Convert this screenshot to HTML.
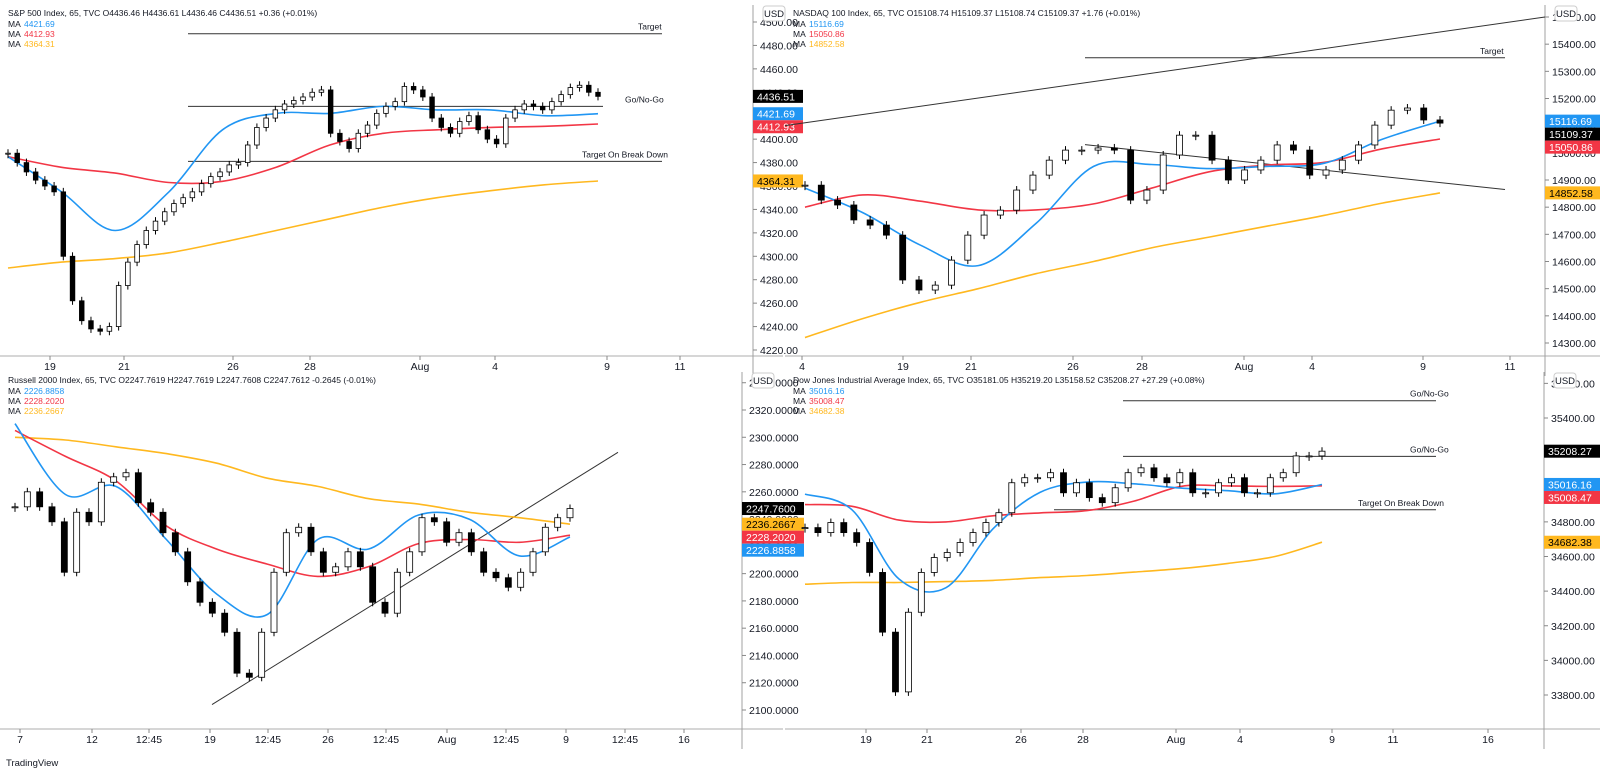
<!DOCTYPE html>
<html><head><meta charset="utf-8"><style>
html,body{margin:0;padding:0;background:#fff;width:1600px;height:770px;overflow:hidden}
svg{display:block;font-family:"Liberation Sans",sans-serif}
</style></head><body>
<svg id="s" width="1600" height="770" viewBox="0 0 1600 770"></svg>
<script>
// ---------- DATA ----------
const spxCloses=[4388,4380,4372,4365,4360,4355,4300,4262,4245,4238,4236,4240,4275,4295,4310,4322,4330,4338,4345,4350,4355,4362,4368,4372,4378,4380,4395,4410,4418,4425,4430,4433,4436,4440,4442,4405,4398,4392,4405,4412,4422,4428,4432,4445,4442,4436,4418,4410,4405,4415,4420,4408,4400,4396,4418,4425,4430,4428,4425,4432,4438,4444,4446,4440,4436.51];
const spxMaBlue=[4385,4355,4322,4355,4408,4422,4422,4428,4425,4425,4420,4421.69];
const spxMaRed=[4385,4376,4371,4363,4364,4376,4395,4405,4408,4410,4411,4412.93];
const spxMaYellow=[4290,4295,4298,4303,4312,4322,4332,4342,4350,4356,4361,4364.31];
const spxTicks=[4220,4240,4260,4280,4300,4320,4340,4360,4380,4400,4420,4440,4460,4480,4500];
const spxDates=["19","21","26","28","Aug","4","9","11"];

const ndxCloses=[14881,14826,14808,14753,14734,14697,14532,14495,14513,14605,14697,14771,14789,14863,14918,14973,15010,15010,15018,15010,14826,14863,14992,15065,15065,14973,14900,14937,14973,15029,15010,14918,14937,14973,15029,15102,15157,15165,15121,15109.37];
const ndxMaBlue=[14870,14780,14660,14585,14740,14950,14957,14942,14950,14962,15050,15116.69];
const ndxMaRed=[14800,14845,14822,14790,14790,14812,14870,14930,14955,14965,15015,15050.86];
const ndxMaYellow=[14320,14390,14450,14500,14555,14600,14650,14690,14730,14770,14815,14852.58];
const ndxTicks=[14300,14400,14500,14600,14700,14800,14900,15000,15100,15200,15300,15400,15500];
const ndxDates=["4","19","21","26","28","Aug","4","9","11"];

const rutCloses=[2249,2260,2249,2238,2201,2245,2238,2267,2271,2274,2252,2245,2230,2216,2194,2179,2171,2157,2127,2124,2157,2201,2230,2234,2216,2201,2205,2216,2205,2179,2171,2201,2216,2241,2238,2223,2230,2216,2201,2197,2190,2201,2216,2234,2241,2247.76];
const rutMaBlue=[2310,2258,2264,2225,2185,2170,2225,2218,2243,2240,2213,2226.8858];
const rutMaRed=[2305,2286,2268,2235,2218,2207,2198,2205,2222,2225,2223,2228.2020];
const rutMaYellow=[2300,2298,2293,2288,2281,2270,2264,2255,2251,2245,2241,2236.2667];
const rutTicks=[2100,2120,2140,2160,2180,2200,2220,2240,2260,2280,2300,2320,2340];
const rutDates=["7","12","12:45","19","12:45","26","12:45","Aug","12:45","9","12:45","16"];

const djiCloses=[34767,34738,34796,34738,34681,34508,34163,33818,34278,34508,34594,34623,34681,34738,34796,34853,35026,35055,35055,35084,34968,35026,34940,34911,34997,35084,35112,35055,35026,35084,34968,34968,35026,35055,34968,34968,35055,35084,35181,35181,35208.27];
const djiMaBlue=[34960,34870,34470,34420,34760,34970,35030,35020,34995,34980,34962,35016.16];
const djiMaRed=[34900,34890,34810,34800,34835,34852,34865,34920,35005,35008,35005,35008.47];
const djiMaYellow=[34440,34450,34450,34455,34462,34478,34490,34510,34530,34560,34600,34682.38];
const djiTicks=[33800,34000,34200,34400,34600,34800,35000,35200,35400,35600];
const djiDates=["19","21","26","28","Aug","4","9","11","16"];

// ---------- RENDER ----------
const NS="http://www.w3.org/2000/svg";
const svg=document.getElementById('s');
function mk(tag,attrs,parent,txt){const e=document.createElementNS(NS,tag);for(const k in attrs)e.setAttribute(k,attrs[k]);if(txt!==undefined)e.textContent=txt;(parent||svg).appendChild(e);return e;}
const BLUE="#2196f3",RED="#f23645",YEL="#ffb81f";
function smooth(P){let d="M"+P[0][0]+","+P[0][1];
  for(let i=0;i<P.length-1;i++){const p0=P[i-1]||P[i],p1=P[i],p2=P[i+1],p3=P[i+2]||p2;
    const c1=[p1[0]+(p2[0]-p0[0])/6,p1[1]+(p2[1]-p0[1])/6],c2=[p2[0]-(p3[0]-p1[0])/6,p2[1]-(p3[1]-p1[1])/6];
    d+=" C"+c1.map(v=>v.toFixed(1))+" "+c2.map(v=>v.toFixed(1))+" "+p2.map(v=>v.toFixed(1));}
  return d;}

function panel(c){
  const g=mk('g',{});
  
  
  const y=p=>c.ya+(p-c.pa)*(c.yb-c.ya)/(c.pb-c.pa);
  const n=c.closes.length;
  const x=i=>c.x0+i*(c.x1-c.x0)/(n-1);
  const xm=(i,m)=>c.x0+i*(c.x1-c.x0)/(m-1);
  let l=mk('line',{x1:c.left,x2:c.right,y1:c.axY,y2:c.axY,stroke:"#d6d6d6","stroke-width":2},g);
  
  l=mk('line',{x1:c.axX,x2:c.axX,y1:c.top,y2:c.axY+20,stroke:"#a0a0a0","stroke-width":1},g);
  
  c.ticks.forEach(t=>{
    const ty=y(t);
    mk('line',{x1:c.axX,x2:c.axX+4,y1:ty,y2:ty,stroke:"#888"},g);
    const tx=mk('text',{x:c.axX+7,y:ty+4,"font-size":10.5,fill:"#131722"},g,t.toFixed(c.dec));
    
  });
  c.dates.forEach((d,i)=>{
    const dx=c.dateX[i];
    mk('line',{x1:dx,x2:dx,y1:c.axY,y2:c.axY+4,stroke:"#888"},g);
    const tx=mk('text',{x:dx,y:c.axY+14,"font-size":10.5,fill:"#131722","text-anchor":"middle"},g,d);
    
  });
  (c.draw||[]).forEach(d=>{
    const ln=mk('line',{x1:d[0],y1:y(d[1]),x2:d[2],y2:y(d[3]),stroke:"#333","stroke-width":1},g);
    
    if(d[4]){const tx=mk('text',{x:d[5],y:y(d[3])-4,"font-size":8.5,fill:"#131722"},g,d[4]);
      }
  });
  [[c.maY,YEL],[c.maR,RED],[c.maB,BLUE]].forEach(([arr,col])=>{
    const P=arr.map((v,i)=>[xm(i,arr.length),y(v)]);
    const pl=mk('path',{d:smooth(P),fill:"none",stroke:col,"stroke-width":1.6,"stroke-linejoin":"round"},g);
    
  });
  const w=Math.max(3,Math.min(6,(c.x1-c.x0)/(n-1)*0.5));
  c.closes.forEach((cl,i)=>{
    const op=i?c.closes[i-1]:cl;
    const up=cl>=op;
    const yt=y(Math.max(op,cl)),yb=y(Math.min(op,cl));
    const cx=x(i);
    mk('line',{x1:cx,x2:cx,y1:yt-4,y2:Math.max(yb,yt+1)+4,stroke:"#000"},g);
    const r=mk('rect',{x:cx-w/2,y:yt,width:w,height:Math.max(1,yb-yt),fill:up?"#fff":"#000",stroke:"#000","stroke-width":0.8},g);
    
  });
  const lg=mk('g',{},g);
  mk('text',{x:c.left+8,y:c.top+11,"font-size":8.5,fill:"#131722"},lg,c.title);
  [[c.maB,BLUE],[c.maR,RED],[c.maY,YEL]].forEach(([arr,col],k)=>{
    mk('text',{x:c.left+8,y:c.top+22+k*10,"font-size":8.5,fill:"#131722"},lg,"MA");
    mk('text',{x:c.left+24,y:c.top+22+k*10,"font-size":8.5,fill:col},lg,arr[arr.length-1].toFixed(c.dec));
  });
  mk('rect',{x:c.axX+10,y:c.top+1,width:22,height:15,rx:3,fill:"#fff",stroke:"#ccc"},g);
  mk('text',{x:c.axX+21,y:c.top+12,"font-size":9.5,"text-anchor":"middle",fill:"#131722"},g,"USD");
  const labs=[[c.closes[n-1],"#000","#fff"],[c.maB[c.maB.length-1],BLUE,"#fff"],[c.maR[c.maR.length-1],RED,"#fff"],[c.maY[c.maY.length-1],YEL,"#000"]]
    .map(a=>({v:a[0],bg:a[1],fg:a[2],py:y(a[0])})).sort((a,b)=>a.py-b.py);
  let prev=-99;
  labs.forEach(L=>{let py=Math.max(L.py,prev+13);prev=py;
    const s=L.v.toFixed(c.dec);const bw=s.length*6+8;
    const rr=mk('rect',{x:c.axX,y:py-6.5,width:bw,height:13,fill:L.bg},g);
    
    mk('text',{x:c.axX+4,y:py+4,"font-size":10.5,fill:L.fg},g,s);
  });
}

panel({name:'spx-panel',left:0,right:783,top:5,axX:753,axY:356,x0:8,x1:598,pa:4220,ya:350,pb:4500,yb:22,dec:2,
  closes:spxCloses,maB:spxMaBlue,maR:spxMaRed,maY:spxMaYellow,ticks:spxTicks,dates:spxDates,dateX:[50,124,233,310,420,495,607,680],
  title:"S&P 500 Index, 65, TVC  O4436.46  H4436.61  L4436.46  C4436.51  +0.36 (+0.01%)",
  draw:[[188,4490,662,4490,"Target",638],[188,4428,603,4428,"Go/No-Go",625],[188,4381,662,4381,"Target On Break Down",582]]});
panel({name:'ndx-panel',left:785,right:1600,top:5,axX:1545,axY:356,x0:805,x1:1440,pa:14300,ya:343,pb:15500,yb:17,dec:2,
  closes:ndxCloses,maB:ndxMaBlue,maR:ndxMaRed,maY:ndxMaYellow,ticks:ndxTicks,dates:ndxDates,dateX:[802,903,971,1073,1142,1244,1312,1423,1510],
  title:"NASDAQ 100 Index, 65, TVC  O15108.74  H15109.37  L15108.74  C15109.37  +1.76 (+0.01%)",
  draw:[[1085,15350,1505,15350,"Target",1480],[785,15100,1545,15500],[1085,15030,1505,14865]]});
panel({name:'rut-panel',left:0,right:783,top:372,axX:742,axY:729,x0:15,x1:570,pa:2320,ya:410,pb:2100,yb:710,dec:4,
  closes:rutCloses,maB:rutMaBlue,maR:rutMaRed,maY:rutMaYellow,ticks:rutTicks,dates:rutDates,dateX:[20,92,149,210,268,328,386,447,506,566,625,684],
  title:"Russell 2000 Index, 65, TVC  O2247.7619  H2247.7619  L2247.7608  C2247.7612  -0.2645 (-0.01%)",
  draw:[[212,2104,618,2289]]});
panel({name:'dji-panel',left:785,right:1600,top:372,axX:1544,axY:729,x0:805,x1:1322,pa:35400,ya:418,pb:33800,yb:695,dec:2,
  closes:djiCloses,maB:djiMaBlue,maR:djiMaRed,maY:djiMaYellow,ticks:djiTicks,dates:djiDates,dateX:[866,927,1021,1083,1176,1240,1332,1393,1488],
  title:"Dow Jones Industrial Average Index, 65, TVC  O35181.05  H35219.20  L35158.52  C35208.27  +27.29 (+0.08%)",
  draw:[[1123,35500,1436,35500,"Go/No-Go",1410],[1123,35178,1436,35178,"Go/No-Go",1410],[1054,34870,1436,34870,"Target On Break Down",1358]]});

const logo=mk('text',{x:6,y:766,"font-size":9.5,fill:"#131722"},svg,"TradingView");


</script>
</body></html>
